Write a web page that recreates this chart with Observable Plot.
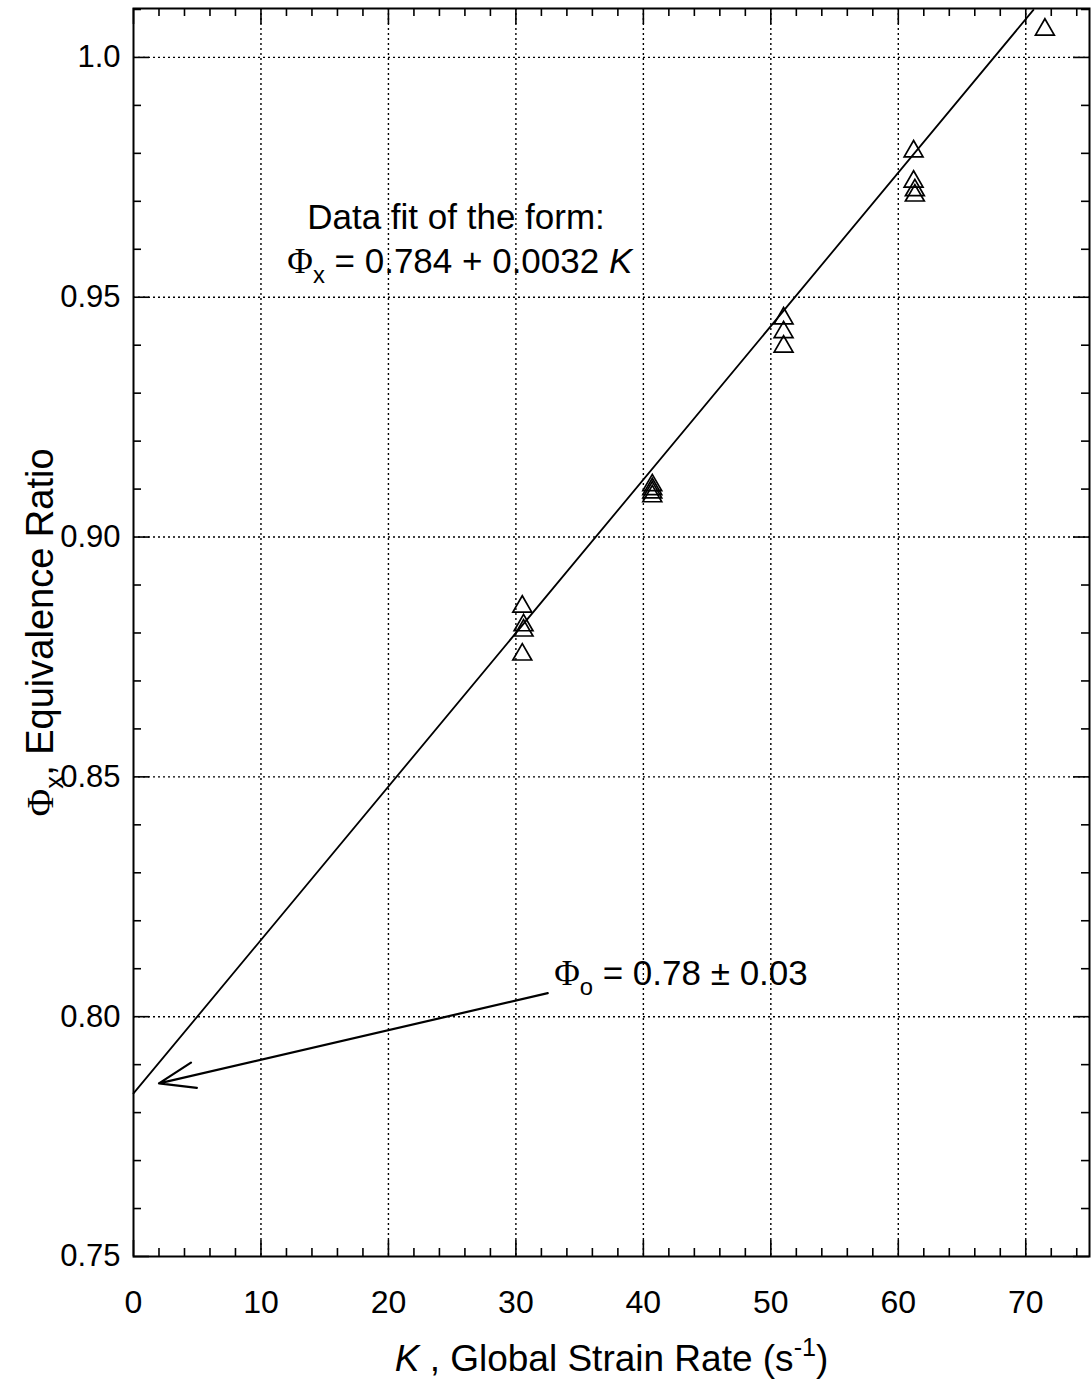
<!DOCTYPE html>
<html>
<head>
<meta charset="utf-8">
<script src="https://cdn.jsdelivr.net/npm/d3@7"></script>
<script src="https://cdn.jsdelivr.net/npm/@observablehq/plot@0.6"></script>
<style>
  html, body { margin: 0; padding: 0; background: #fff; }
  svg { display: block; }
</style>
</head>
<body>
<div id="chart"></div>
<script>
// ---- data ----
const strainRate = [30.5, 30.6, 30.6, 30.5, 40.7, 40.7, 40.7, 40.7, 51.0, 51.0, 51.0, 61.2, 61.2, 61.3, 61.3, 71.5];
const equivRatio = [0.8855, 0.8816, 0.8805, 0.8755, 0.9108, 0.9100, 0.9093, 0.9085, 0.9456, 0.9427, 0.9397, 0.9804, 0.9741, 0.9723, 0.9712, 1.0058];
const fitK = [0, 70.6];
const fitPhi = [0.784, 1.0099];
const xMajorTicks = [0, 10, 20, 30, 40, 50, 60, 70];
const xMinorTicks = [2, 4, 6, 8, 12, 14, 16, 18, 22, 24, 26, 28, 32, 34, 36, 38, 42, 44, 46, 48, 52, 54, 56, 58, 62, 64, 66, 68, 72, 74];
const yMajorTicks = [0.75, 0.80, 0.85, 0.90, 0.95, 1.00];
const yTickLabels = ["0.75", "0.80", "0.85", "0.90", "0.95", "1.0"];
const yMinorTicks = [0.76, 0.77, 0.78, 0.79, 0.81, 0.82, 0.83, 0.84, 0.86, 0.87, 0.88, 0.89, 0.91, 0.92, 0.93, 0.94, 0.96, 0.97, 0.98, 0.99, 1.01];
const xTitle = "K , Global Strain Rate (s-1)";
const yTitle = "Φx, Equivalence Ratio";
const noteLine1 = "Data fit of the form:";
const noteLine2 = "Φx = 0.784 + 0.0032 K";
const noteIntercept = "Φo = 0.78 ± 0.03";

const points = strainRate.map((k, i) => ({k, phi: equivRatio[i]}));
const fit = fitK.map((k, i) => ({k, phi: fitPhi[i]}));

// ---- layout ----
const W = 1091, H = 1388;
const mL = 133, mR = 2, mT = 8, mB = 132;
const plotW = W - mL - mR, plotH = H - mT - mB;
const majorLen = 16, minorLen = 8;
const font = "Liberation Sans, Arial, Helvetica, sans-serif";

const tickBottom = (ticks, len) => Plot.ruleX(ticks, {stroke: "#000", strokeWidth: 1.6, insetTop: plotH - len});
const tickTop = (ticks, len) => Plot.ruleX(ticks, {stroke: "#000", strokeWidth: 1.6, insetBottom: plotH - len});
const tickLeft = (ticks, len) => Plot.ruleY(ticks, {stroke: "#000", strokeWidth: 1.6, insetRight: plotW - len});
const tickRight = (ticks, len) => Plot.ruleY(ticks, {stroke: "#000", strokeWidth: 1.6, insetLeft: plotW - len});

const chart = Plot.plot({
  width: W,
  height: H,
  marginLeft: mL,
  marginRight: mR,
  marginTop: mT,
  marginBottom: mB,
  style: {fontFamily: font, fontSize: "31px", color: "#000", background: "#fff"},
  x: {domain: [0, 75]},
  y: {domain: [0.75, 1.0102]},
  marks: [
    // dotted grid
    Plot.ruleX(xMajorTicks.filter(d => d > 0), {stroke: "#000", strokeWidth: 1.4, strokeDasharray: "2,3"}),
    Plot.ruleY(yMajorTicks.filter(d => d > 0.75), {stroke: "#000", strokeWidth: 1.4, strokeDasharray: "2,3"}),
    // inward ticks on all four sides
    tickBottom(xMajorTicks, majorLen), tickBottom(xMinorTicks, minorLen),
    tickTop(xMajorTicks, majorLen), tickTop(xMinorTicks, minorLen),
    tickLeft(yMajorTicks, majorLen), tickLeft(yMinorTicks, minorLen),
    tickRight(yMajorTicks, majorLen), tickRight(yMinorTicks, minorLen),
    // axes labels only
    Plot.axisX({ticks: xMajorTicks, tickSize: 0, tickPadding: 34, fontSize: 32, label: null}),
    Plot.axisY({ticks: yMajorTicks, tickSize: 0, tickPadding: 13, fontSize: 31, label: null,
      tickFormat: d => yTickLabels[yMajorTicks.indexOf(d)]}),
    // fit line
    Plot.line(fit, {x: "k", y: "phi", stroke: "#000", strokeWidth: 1.8}),
    // data
    Plot.dot(points, {x: "k", y: "phi", symbol: "triangle", r: 7, stroke: "#000", strokeWidth: 1.7, fill: "none"}),
    // annotations
    Plot.text([noteLine1], {x: 25.3, y: 0.9665, text: d => d, fontSize: 35, textAnchor: "middle"}),
    Plot.text([noteLine2], {x: 25.6, y: 0.9574, text: d => d, fontSize: 35, textAnchor: "middle"}),
    Plot.text([noteIntercept], {x: 33.0, y: 0.8090, text: d => d, fontSize: 35, textAnchor: "start"}),
    Plot.arrow([{}], {x1: 32.5, y1: 0.8049, x2: 2.0, y2: 0.7861, stroke: "#000", strokeWidth: 2.2, headLength: 26, headAngle: 40}),
    // axis titles
    Plot.text([xTitle], {frameAnchor: "bottom", dy: 114, text: d => d, fontSize: 37, textAnchor: "middle"}),
    Plot.text([yTitle], {frameAnchor: "left", dx: -93, rotate: -90, text: d => d, fontSize: 38, textAnchor: "middle"}),
    Plot.frame({stroke: "#000", strokeWidth: 2})
  ]
});

// rich text (sub/superscripts, italics, serif Phi)
const richSpecs = {
  [xTitle]: {base: 37, parts: [{t: "K", italic: true}, {t: " , Global Strain Rate (s"}, {t: "-1", sup: true}, {t: ")"}]},
  [yTitle]: {base: 38, parts: [{t: "Φ", serif: true}, {t: "x", sub: true}, {t: ", Equivalence Ratio"}]},
  [noteLine2]: {base: 35, parts: [{t: "Φ", serif: true}, {t: "x", sub: true}, {t: " = 0.784 + 0.0032 "}, {t: "K", italic: true}]},
  [noteIntercept]: {base: 35, parts: [{t: "Φ", serif: true}, {t: "o", sub: true}, {t: " = 0.78 ± 0.03"}]}
};
chart.querySelectorAll("text").forEach(el => {
  const spec = richSpecs[el.textContent];
  if (!spec) return;
  const t = d3.select(el);
  t.text(null);
  let shift = 0;
  for (const p of spec.parts) {
    const s = t.append("tspan").text(p.t);
    const target = p.sub ? spec.base * 0.28 : p.sup ? -spec.base * 0.38 : 0;
    if (target - shift !== 0) s.attr("dy", target - shift);
    shift = target;
    if (p.sub || p.sup) s.attr("font-size", spec.base * 0.68);
    if (p.italic) s.attr("font-style", "italic");
    if (p.serif) s.attr("font-family", "Liberation Serif, DejaVu Serif, serif");
  }
});

document.getElementById("chart").appendChild(chart);
</script>
</body>
</html>
